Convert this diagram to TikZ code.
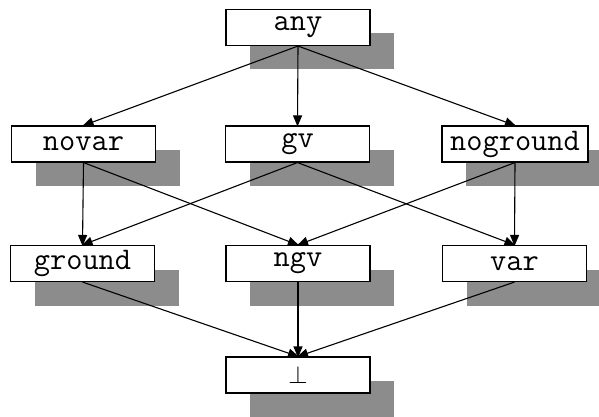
\documentclass[tikz,border=0pt]{standalone}
\usetikzlibrary{shadows,arrows.meta}
\definecolor{shadowgray}{RGB}{140,140,140}
\tikzset{
  lattice/.style={draw=black, line width=1.1pt, fill=white,
    minimum width=144pt, minimum height=36pt, inner sep=0pt,
    font=\ttfamily\fontsize{31.5}{31.5}\selectfont,
    drop shadow={shadow xshift=24pt, shadow yshift=-24pt,
                 fill=shadowgray, opacity=1}},
  order/.style={draw=black, line width=1.1pt,
    -{Triangle[length=11pt,width=9pt]}, shorten >=-1pt}
}
\begin{document}
\begin{tikzpicture}[x=1pt,y=1pt]
  \useasboundingbox (0,0) rectangle (599,416);
  % top element
  \node[lattice] (any) at (298,388.5) {any};
  % second level
  \node[lattice] (novar) at (83.5,272) {novar};
  \node[lattice] (gv) at (297.5,272) {gv};
  \node[lattice, minimum width=146pt] (noground) at (515,272) {noground};
  % third level
  \node[lattice] (ground) at (82.5,152.5) {ground};
  \node[lattice] (ngv) at (298,152.5) {ngv};
  \node[lattice] (var) at (514.5,152.5) {var};
  % bottom element
  \node[lattice] (bot) at (298,41) {$\bot$};
  % ordering arrows
  \draw[order] (any.south) -- (novar.north);
  \draw[order] (any.south) -- (gv.north);
  \draw[order] (any.south) -- (noground.north);
  \draw[order] (novar.south) -- (ground.north);
  \draw[order] (novar.south) -- (ngv.north);
  \draw[order] (gv.south) -- (ground.north);
  \draw[order] (gv.south) -- (var.north);
  \draw[order] (noground.south) -- (ngv.north);
  \draw[order] (noground.south) -- (var.north);
  \draw[order] (ground.south) -- (bot.north);
  \draw[order] (ngv.south) -- (bot.north);
  \draw[order] (var.south) -- (bot.north);
\end{tikzpicture}
\end{document}
